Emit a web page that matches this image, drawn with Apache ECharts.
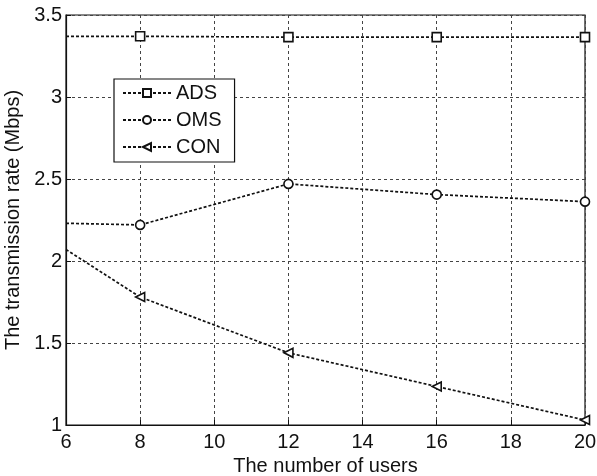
<!DOCTYPE html>
<html>
<head>
<meta charset="utf-8">
<script src="https://cdn.jsdelivr.net/npm/echarts@6/dist/echarts.min.js"></script>
<style>
  html, body { margin: 0; padding: 0; background: #fff; }
  #chart { width: 597px; height: 476px; }
</style>
</head>
<body>
<div id="chart"></div>
<script>
const users = [6, 8, 12, 16, 20];
const ads = [3.37, 3.37, 3.365, 3.365, 3.365];
const oms = [2.23, 2.22, 2.47, 2.405, 2.362];
const con = [2.07, 1.78, 1.44, 1.235, 1.03];
const yTicks = [1, 1.5, 2, 2.5, 3, 3.5];

// first point sits on the left edge of the plot without a marker
function pts(vals) {
  return users.map((u, i) => {
    const p = { value: [u, vals[i]] };
    if (i === 0) p.symbol = 'none';
    return p;
  });
}

const font = 'Liberation Sans, Arial, sans-serif';
const myChart = echarts.init(document.getElementById('chart'));

function line(name, symbol, vals, rotate) {
  return {
    name: name,
    type: 'line',
    data: pts(vals),
    symbol: symbol,
    symbolSize: 9,
    symbolRotate: rotate || 0,
    showAllSymbol: true,
    clip: true,
    lineStyle: { color: '#111', width: 1.7, type: [3, 2] },
    itemStyle: { color: '#fff', borderColor: '#111', borderWidth: 1.6 },
    emphasis: { disabled: true }
  };
}

myChart.setOption({
  animation: false,
  grid: {
    left: 66, right: 12, top: 15, bottom: 51,
    outerBoundsMode: 'none',
    containLabel: false,
    show: true, borderColor: '#111', borderWidth: 1.2
  },
  legend: {
    orient: 'vertical',
    left: 114, top: 79,
    padding: [4, 13, 5, 8],
    itemGap: 7,
    itemWidth: 48,
    itemHeight: 10,
    backgroundColor: '#fff',
    borderColor: '#111',
    borderWidth: 1.2,
    textStyle: { fontFamily: font, fontSize: 20, color: '#111' },
    data: ['ADS', 'OMS', 'CON']
  },
  xAxis: {
    type: 'value',
    min: 6, max: 20, interval: 2,
    name: 'The number of users',
    nameLocation: 'middle',
    nameGap: 30,
    nameTextStyle: { fontFamily: font, fontSize: 20, color: '#111' },
    axisLine: { show: true, lineStyle: { color: '#111', width: 1.2 } },
    axisTick: { inside: true, length: 5, lineStyle: { color: '#111' } },
    axisLabel: { fontFamily: font, fontSize: 20, color: '#111', margin: 7 },
    splitLine: { show: true, lineStyle: { color: '#444', type: [3, 3], width: 1 } }
  },
  yAxis: {
    type: 'value',
    min: yTicks[0], max: yTicks[yTicks.length - 1], interval: 0.5,
    name: 'The transmission rate (Mbps)',
    nameLocation: 'middle',
    nameGap: 39,
    nameTextStyle: { fontFamily: font, fontSize: 20, color: '#111' },
    axisLine: { show: true, lineStyle: { color: '#111', width: 1.2 } },
    axisTick: { inside: true, length: 5, lineStyle: { color: '#111' } },
    axisLabel: { fontFamily: font, fontSize: 20, color: '#111', margin: 4 },
    splitLine: { show: true, lineStyle: { color: '#444', type: [3, 3], width: 1 } }
  },
  series: [
    line('ADS', 'rect', ads),
    line('OMS', 'circle', oms),
    line('CON', 'triangle', con, 90)
  ]
});
</script>
</body>
</html>
